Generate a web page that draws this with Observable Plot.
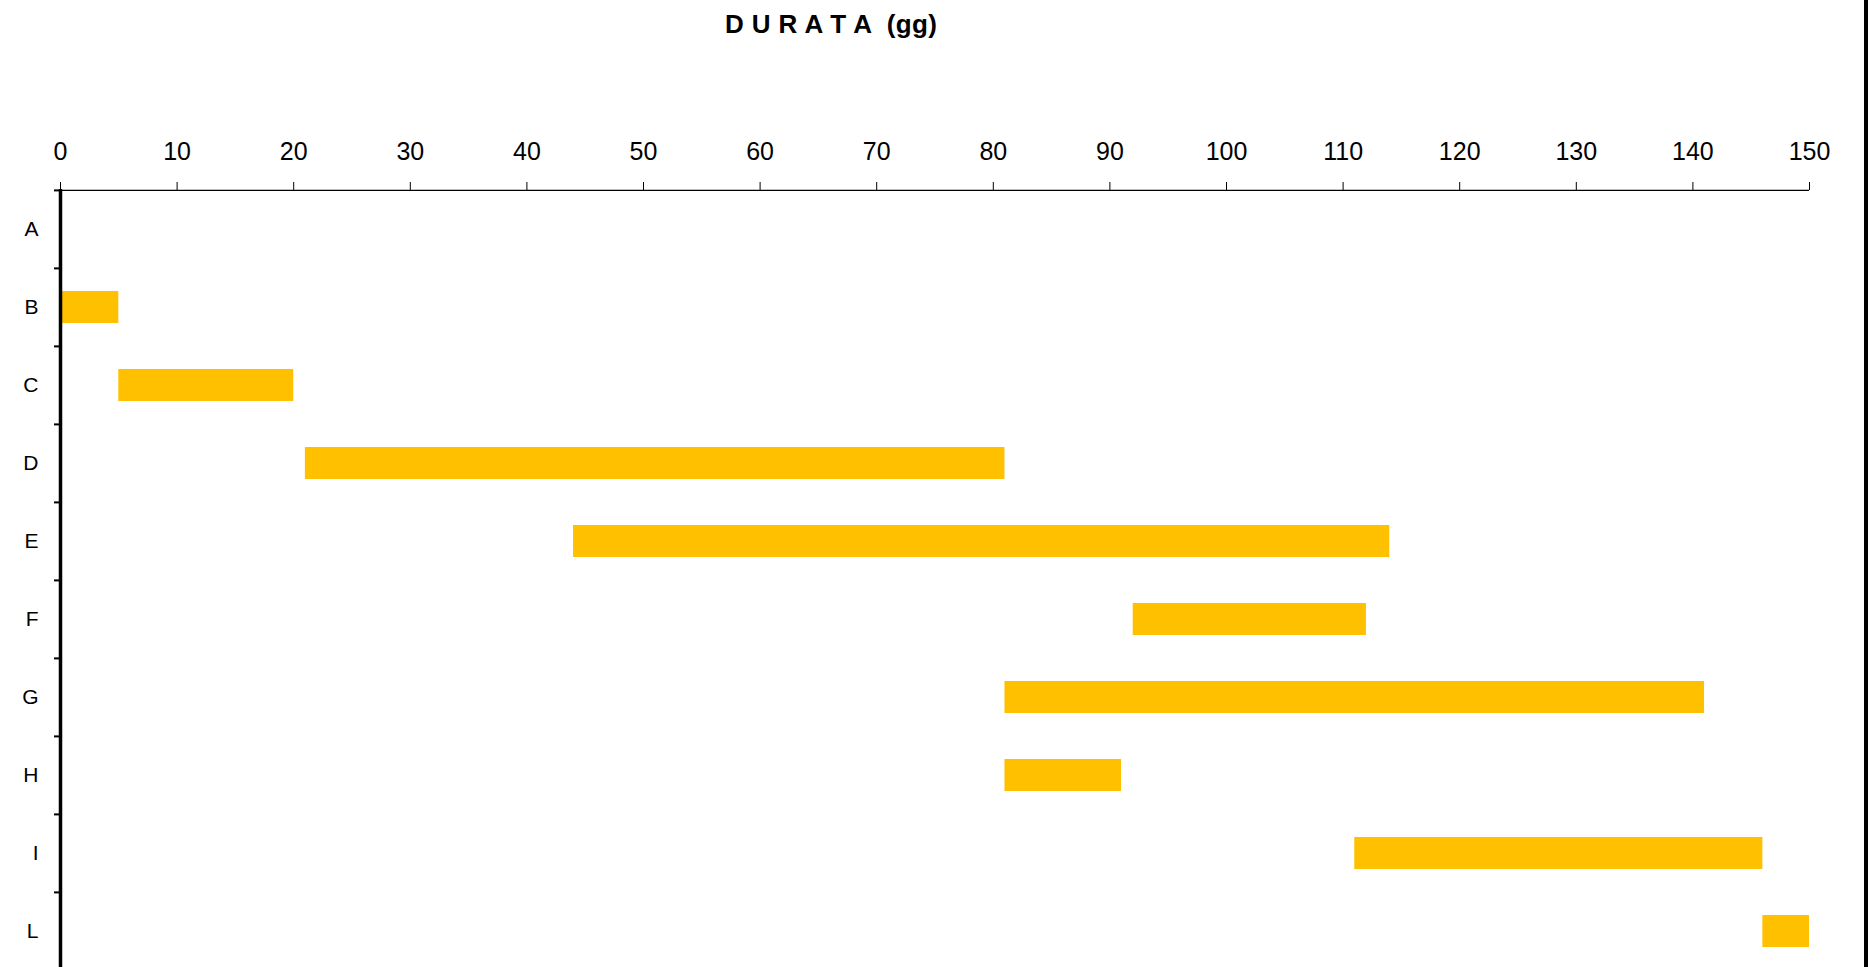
<!DOCTYPE html>
<html>
<head>
<meta charset="utf-8">
<script src="https://cdn.jsdelivr.net/npm/d3@7"></script>
<script src="https://cdn.jsdelivr.net/npm/@observablehq/plot@0.6"></script>
<style>
  html, body { margin: 0; padding: 0; background: #fff; }
  #wrap { position: relative; width: 1868px; height: 967px; overflow: hidden; font-family: "Liberation Sans", Arial, sans-serif; }
  #title { position: absolute; left: 725px; top: 11px; font-size: 26px; line-height: 26px; font-weight: bold; letter-spacing: 0.4px; white-space: pre; color: #000; }
  #edge { position: absolute; right: 0; top: 0; width: 4px; height: 967px; background: #000; }
  #chart { position: absolute; left: 0; top: 0; }
</style>
</head>
<body>
<div id="wrap">
  <div id="chart"></div>
  <div id="title">D U R A T A  (gg)</div>
  <div id="edge"></div>
</div>
<script>
const tasks  = ["A", "B", "C", "D", "E", "F", "G", "H", "I", "L"];
const starts = [0, 0, 5, 21, 44, 92, 81, 81, 111, 146];
const ends   = [0, 5, 20, 81, 114, 112, 141, 91, 146, 150];
const xTicks = [0, 10, 20, 30, 40, 50, 60, 70, 80, 90, 100, 110, 120, 130, 140, 150];

const data = tasks.map((t, i) => ({task: t, start: starts[i], end: ends[i]}));

const W = 1868, H = 967;
const plotTop = 189, plotBottom = 971;
const step = (plotBottom - plotTop) / tasks.length;

const chart = Plot.plot({
  width: W,
  height: H,
  marginLeft: 60,
  marginRight: 59,
  marginTop: plotTop,
  marginBottom: 0,
  style: {fontFamily: "'Liberation Sans', Arial, sans-serif", background: "transparent", color: "#000"},
  x: {domain: [0, 150], axis: null},
  y: {type: "band", domain: tasks, range: [plotTop, plotBottom], padding: 0, axis: null},
  marks: [
    Plot.barX(data, {x1: "start", x2: "end", y: "task", fill: "#FFC000", insetTop: 23, insetBottom: 23}),
    Plot.axisX({anchor: "top", ticks: xTicks, tickSize: 8, tickPadding: 22, fontSize: 25, stroke: "#000", fill: "#000", label: null}),
    Plot.ruleY([tasks[0]], {x1: 0, x2: 150, dy: -step / 2, stroke: "#000", strokeWidth: 1.3}),
    Plot.axisY({anchor: "left", tickSize: 0, tickPadding: 22, fontSize: 21, fill: "#000", label: null}),
    Plot.axisY({anchor: "left", tickSize: 6, tickFormat: () => "", dy: -step / 2, stroke: "#000", strokeWidth: 2, label: null}),
    Plot.ruleX([0], {stroke: "#000", strokeWidth: 3.5})
  ]
});
document.getElementById("chart").appendChild(chart);
</script>
</body>
</html>
